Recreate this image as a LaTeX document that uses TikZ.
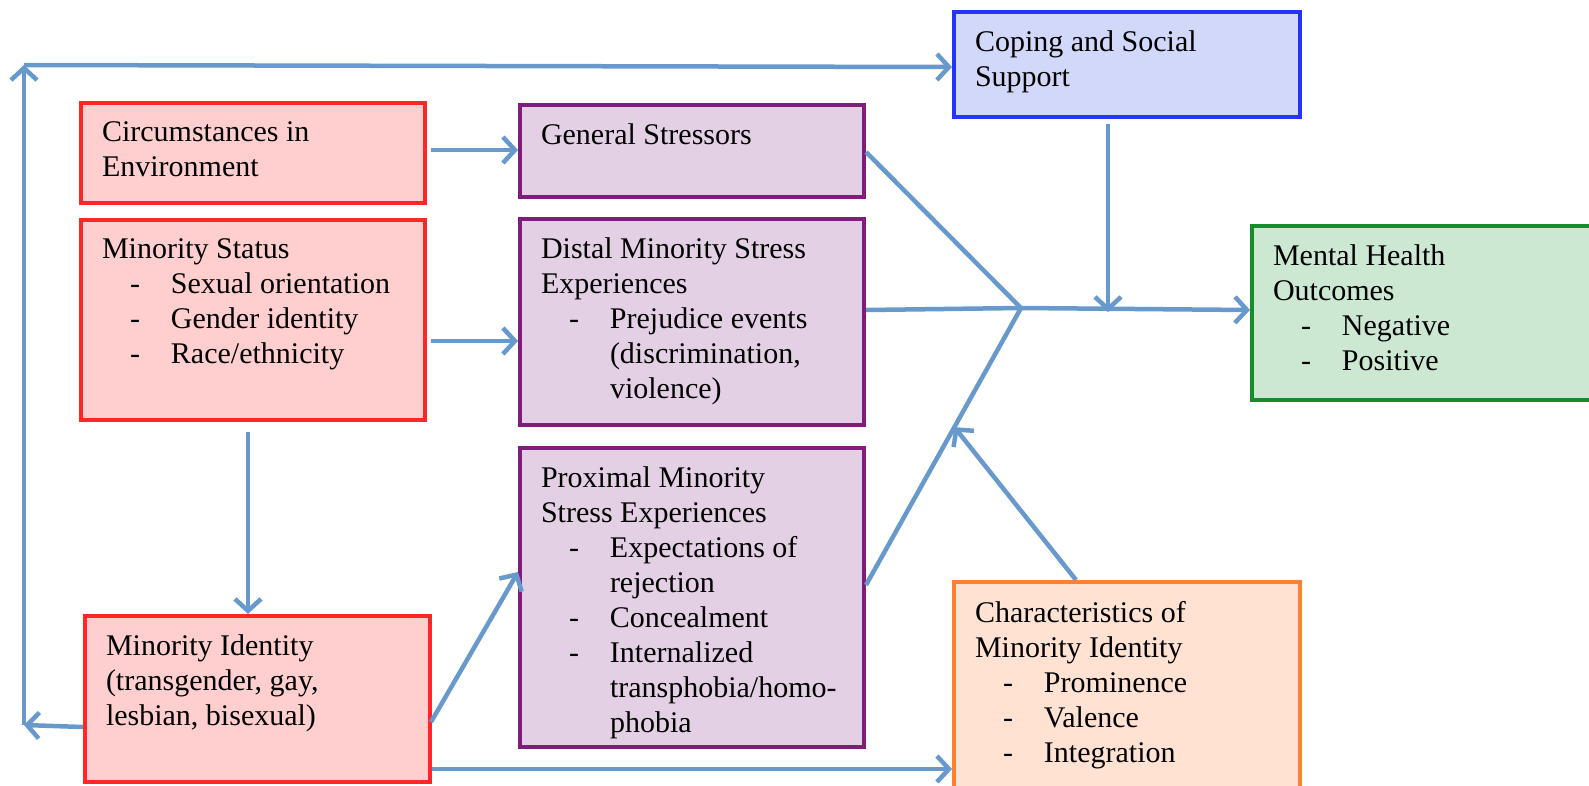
\documentclass[tikz,border=0pt]{standalone}
\usepackage{fontspec}
\setmainfont{Liberation Serif}
\usepackage{tikz}
\usetikzlibrary{arrows.meta,positioning,calc}

\definecolor{redline}{RGB}{255,38,38}
\definecolor{redfill}{RGB}{255,206,206}
\definecolor{purpleline}{RGB}{128,28,122}
\definecolor{purplefill}{RGB}{228,208,228}
\definecolor{blueline}{RGB}{36,52,250}
\definecolor{bluefill}{RGB}{210,216,250}
\definecolor{greenline}{RGB}{22,140,44}
\definecolor{greenfill}{RGB}{204,232,210}
\definecolor{orangeline}{RGB}{255,128,48}
\definecolor{orangefill}{RGB}{255,226,210}
\definecolor{arrowblue}{RGB}{104,153,204}

% list items inside the boxes
\newcommand{\itm}{\hspace*{28pt}\makebox[41pt][l]{-}}
\newcommand{\cnt}{\hspace*{69pt}}
\newcommand{\boxtext}[3]{\parbox[c][#2][t]{#1}{\vspace*{19pt}#3}}

\begin{document}
\begin{tikzpicture}[
    x=1pt, y=-1pt,
    >={Straight Barb[length=12pt,width=26pt]},
    box/.style={draw,line width=4pt,anchor=north west,inner xsep=21pt,inner ysep=0pt,
                font=\fontsize{30}{35}\selectfont},
    envbox/.style={box,draw=redline,fill=redfill},
    stressbox/.style={box,draw=purpleline,fill=purplefill},
    copebox/.style={box,draw=blueline,fill=bluefill},
    outbox/.style={box,draw=greenline,fill=greenfill},
    charbox/.style={box,draw=orangeline,fill=orangefill},
    link/.style={->,arrowblue,line width=4.5pt},
    feed/.style={arrowblue,line width=4.5pt},
  ]
  \useasboundingbox (0,0) rectangle (1589,785);
  \clip (0,0) rectangle (1589,785);

  % --- left column ---
  \node[envbox] (circ) at (79,101) {\boxtext{302pt}{100pt}{Circumstances in\\Environment}};
  \node[envbox] (ms) at (79,218) {\boxtext{302pt}{200pt}{Minority Status\\
    \itm Sexual orientation\\ \itm Gender identity\\ \itm Race/ethnicity}};
  \node[envbox] (mi) at (83,614) {\boxtext{303pt}{166pt}{Minority Identity\\
    (transgender, gay,\\lesbian, bisexual)}};

  % --- stressors column ---
  \node[stressbox] (gen) at (518,103) {\boxtext{302pt}{92pt}{General Stressors}};
  \node[stressbox] (dist) at (518,217) {\boxtext{302pt}{206pt}{Distal Minority Stress\\
    Experiences\\ \itm Prejudice events\\ \cnt (discrimination,\\ \cnt violence)}};
  \node[stressbox] (prox) at (518,446) {\boxtext{302pt}{299pt}{Proximal Minority\\
    Stress Experiences\\ \itm Expectations of\\ \cnt rejection\\ \itm Concealment\\
    \itm Internalized\\ \cnt transphobia/homo-\\ \cnt phobia}};

  % --- moderators and outcome ---
  \node[copebox] (cope) at (952,10) {\boxtext{304pt}{105pt}{Coping and Social\\Support}};
  \node[outbox] (mh) at (1250,224) {\boxtext{328pt}{174pt}{Mental Health\\
    Outcomes\\ \itm Negative\\ \itm Positive}};
  \node[charbox] (chars) at (952,580) {\boxtext{304pt}{230pt}{Characteristics of\\
    Minority Identity\\ \itm Prominence\\ \itm Valence\\ \itm Integration}};

  \coordinate (jn) at (1021,308);
  \coordinate (bl) at (24,725);
  \coordinate (tl) at (24,65);

  % --- feedback loop round the left side ---
  \draw[link] ($(mi.west)+(0,28)$) -- (bl);
  \draw[link] (bl) -- (tl);
  \draw[link] (tl) -- ($(cope.west)+(0,2.5)$);

  % --- left to stressors ---
  \draw[link] ($(circ.east)+(4,-3)$) -- ($(gen.west)+(0,-1)$);
  \draw[link] ($(ms.east)+(4,21)$) -- ($(dist.west)+(0,19)$);
  \draw[link] ($(ms.south)+(-5,10)$) -- ($(mi.north)+(-9.5,0)$);
  \draw[link] ($(mi.east)+(-1,23)$) -- ($(prox.west)+(0,-25.5)$);
  \draw[link] ($(mi.east)+(0,70)$) -- ($(chars.west)+(0,72)$);

  % --- stressors into the outcome ---
  \draw[feed] ($(gen.east)+(0,1)$) -- (jn);
  \draw[feed] ($(dist.east)+(0,-12)$) -- (jn);
  \draw[feed] ($(prox.east)+(0,-12.5)$) -- coordinate[pos=0.57] (hit) (jn);
  \draw[link] (jn) -- ($(mh.west)+(0,-3)$);
  \draw[link] ($(cope.south)+(-19,5)$) -- ($(cope.south)+(-19,193)$);
  \draw[link] ($(chars.north)+(-51,0)$) -- (hit);

\end{tikzpicture}
\end{document}
